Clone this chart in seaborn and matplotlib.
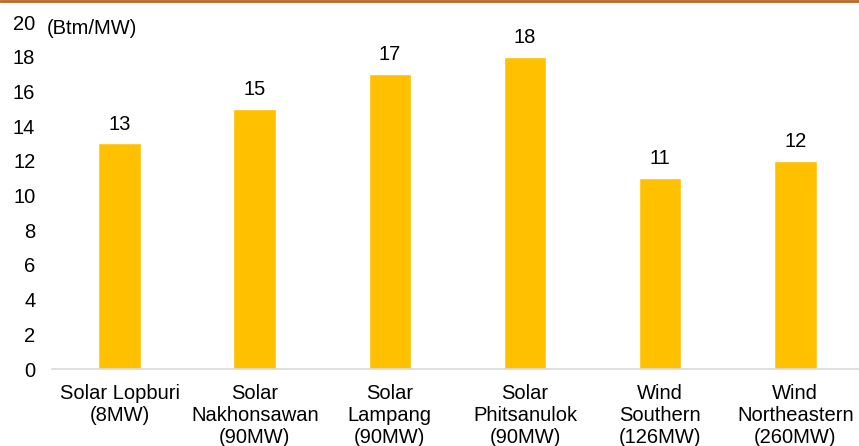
import matplotlib
matplotlib.use("Agg")
import matplotlib.pyplot as plt
import seaborn as sns
import pandas as pd
from matplotlib.lines import Line2D

categories = ["Solar Lopburi\n(8MW)", "Solar\nNakhonsawan\n(90MW)", "Solar\nLampang\n(90MW)",
              "Solar\nPhitsanulok\n(90MW)", "Wind\nSouthern\n(126MW)", "Wind\nNortheastern\n(260MW)"]
values = [13, 15, 17, 18, 11, 12]
yticks = [0, 2, 4, 6, 8, 10, 12, 14, 16, 18, 20]
unit_label = "(Btm/MW)"

sns.set_theme(style="white")
plt.rcParams['font.family'] = ['Liberation Sans', 'DejaVu Sans']

df = pd.DataFrame({"cat": categories, "val": values})

fig = plt.figure(figsize=(8.59, 4.46), dpi=100)
ax = fig.add_axes([0.0605, 0.1726, 0.944, 0.778])
sns.barplot(data=df, x="cat", y="val", color="#FFC000", width=0.315, ax=ax, saturation=1)

ax.set_ylim(0, 20)
ax.set_yticks(yticks)
ax.set_yticklabels([str(t) for t in yticks], fontsize=14.5, color="#000000")
ax.tick_params(axis="x", labelsize=14.5, colors="#000000", length=0, pad=11)
ax.tick_params(axis="y", length=0, pad=12)
for lbl in ax.get_xticklabels():
    lbl.set_linespacing(1.2)
ax.set_xlabel("")
ax.set_ylabel("")
for s in ["top", "right", "left"]:
    ax.spines[s].set_visible(False)
ax.spines["bottom"].set_color("#D9D9D9")
ax.spines["bottom"].set_linewidth(1.2)

for c in ax.containers:
    ax.bar_label(c, labels=[str(v) for v in values], padding=7, fontsize=14.5, color="#000000")

fig.text(0.054, 0.935, unit_label, fontsize=14.5, color="#000000", ha="left", va="center")
fig.add_artist(Line2D([0, 1], [0.998, 0.998], transform=fig.transFigure, color="#C0661E", linewidth=2))

fig.savefig("out.png", dpi=100)
